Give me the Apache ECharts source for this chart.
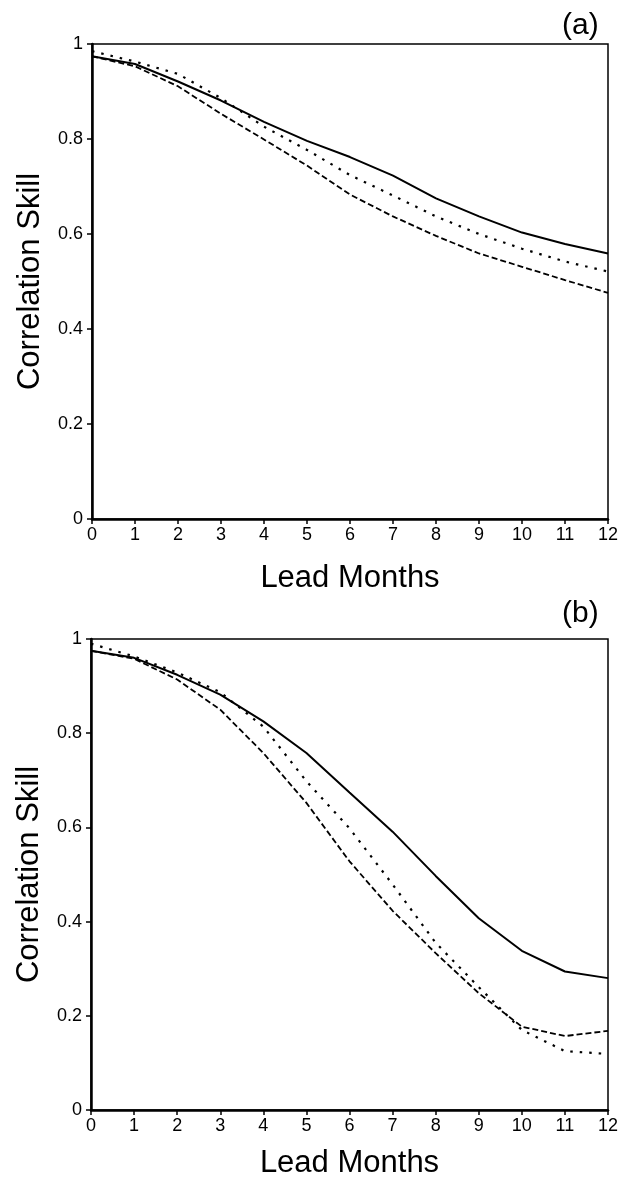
<!DOCTYPE html>
<html>
<head>
<meta charset="utf-8">
<script src="https://cdn.jsdelivr.net/npm/echarts@6/dist/echarts.min.js"></script>
<style>
html,body{margin:0;padding:0;background:#fff;}
#chart{width:625px;height:1183px;}
</style>
</head>
<body>
<div id="chart"></div>
<script>
// Lead months (x)
const months = [0,1,2,3,4,5,6,7,8,9,10,11,12];
// Panel (a)
const aSolid  = [0.974, 0.958, 0.921, 0.881, 0.836, 0.796, 0.762, 0.723, 0.675, 0.637, 0.603, 0.579, 0.559];
const aDotted = [0.985, 0.963, 0.937, 0.886, 0.826, 0.777, 0.724, 0.681, 0.637, 0.600, 0.569, 0.542, 0.521];
const aDashed = [0.974, 0.953, 0.911, 0.853, 0.799, 0.744, 0.683, 0.637, 0.596, 0.559, 0.531, 0.503, 0.476];
// Panel (b)
const bSolid  = [0.975, 0.960, 0.924, 0.882, 0.825, 0.758, 0.674, 0.591, 0.497, 0.407, 0.338, 0.294, 0.280];
const bDotted = [0.990, 0.963, 0.929, 0.887, 0.814, 0.698, 0.598, 0.479, 0.355, 0.261, 0.170, 0.125, 0.119];
const bDashed = [0.975, 0.958, 0.914, 0.850, 0.758, 0.652, 0.528, 0.423, 0.333, 0.248, 0.177, 0.157, 0.168];

const panelLabels = ['(a)', '(b)'];
const xTitle = 'Lead Months';
const yTitle = 'Correlation Skill';

const FONT = 'Liberation Sans, Arial, sans-serif';
const pair = (xs, ys) => xs.map((x, i) => [x, ys[i]]);

function xAxisFor(gi, gap) {
  return {
    gridIndex: gi, type: 'value', min: 0, max: 12, interval: 1,
    name: xTitle, nameLocation: 'middle', nameGap: gap,
    nameTextStyle: {fontFamily: FONT, fontSize: 31, color: '#000'},
    axisLine: {show: true, onZero: false, lineStyle: {color: '#000', width: 2.5}},
    axisTick: {show: true, inside: false, length: 5, lineStyle: {color: '#000', width: 1.5}},
    axisLabel: {fontFamily: FONT, fontSize: 18, color: '#000', margin: 7},
    splitLine: {show: false}
  };
}
function yAxisFor(gi) {
  return {
    gridIndex: gi, type: 'value', min: 0, max: 1, interval: 0.2,
    name: yTitle, nameLocation: 'middle', nameGap: 46, nameRotate: 90,
    nameTextStyle: {fontFamily: FONT, fontSize: 31, color: '#000'},
    axisLine: {show: true, onZero: false, lineStyle: {color: '#000', width: 2.5}},
    axisTick: {show: true, inside: false, length: 5, lineStyle: {color: '#000', width: 1.5}},
    axisLabel: {fontFamily: FONT, fontSize: 18, color: '#000', margin: 9},
    splitLine: {show: false}
  };
}
function lineSeries(gi, ys, type, width) {
  return {
    type: 'line', xAxisIndex: gi, yAxisIndex: gi,
    data: pair(months, ys), showSymbol: false, symbol: 'none', smooth: false,
    lineStyle: {color: '#000', width: width, type: type},
    animation: false, silent: true
  };
}

const chart = echarts.init(document.getElementById('chart'), null, {renderer: 'canvas'});
chart.setOption({
  backgroundColor: '#fff',
  animation: false,
  title: [
    {text: panelLabels[0], left: 557, top: 6, textStyle: {fontFamily: FONT, fontSize: 30, fontWeight: 'normal', color: '#000'}},
    {text: panelLabels[1], left: 557, top: 594, textStyle: {fontFamily: FONT, fontSize: 30, fontWeight: 'normal', color: '#000'}}
  ],
  grid: [
    {left: 92, top: 44, width: 516, height: 475, show: true, borderColor: '#000', borderWidth: 1.5, backgroundColor: 'transparent'},
    {left: 91, top: 639, width: 517, height: 471, show: true, borderColor: '#000', borderWidth: 1.5, backgroundColor: 'transparent'}
  ],
  xAxis: [xAxisFor(0, 44), xAxisFor(1, 38)],
  yAxis: [yAxisFor(0), yAxisFor(1)],
  series: [
    lineSeries(0, aSolid, 'solid', 2),
    lineSeries(0, aDotted, [2.5, 7], 2.2),
    lineSeries(0, aDashed, [6, 3], 1.8),
    lineSeries(1, bSolid, 'solid', 2),
    lineSeries(1, bDotted, [2.5, 7], 2.2),
    lineSeries(1, bDashed, [6, 3], 1.8)
  ]
});
</script>
</body>
</html>
